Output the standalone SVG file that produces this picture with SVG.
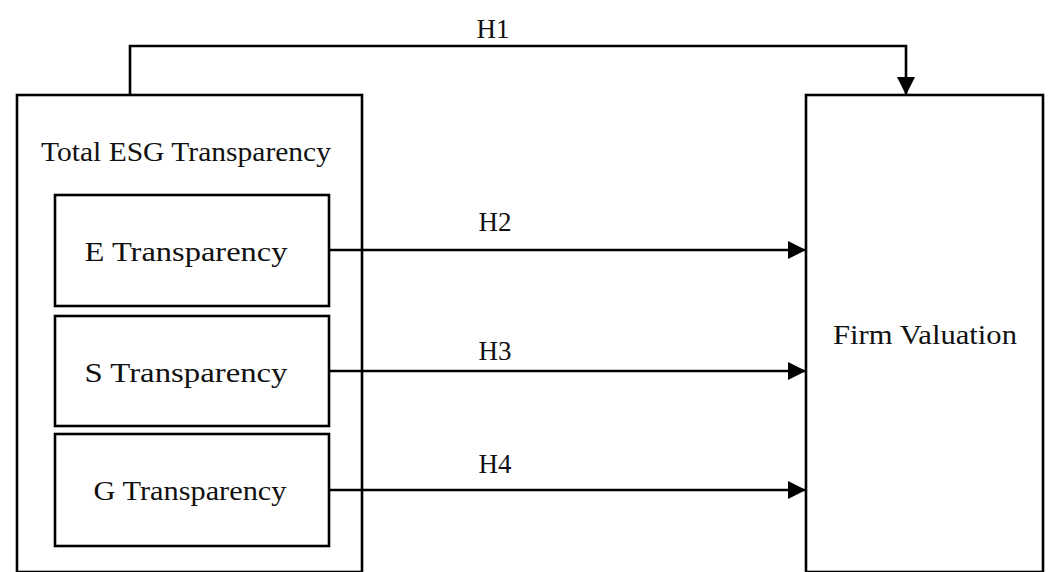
<svg xmlns="http://www.w3.org/2000/svg" width="1049" height="572" viewBox="0 0 1049 572">
<style>
.box{fill:none;stroke:#000;stroke-width:2.6}
.conn{fill:none;stroke:#000;stroke-width:2.6}
.t{font-family:"Liberation Serif","Times New Roman",serif;font-size:27px;fill:#111;text-anchor:middle}
</style>
<defs>
<marker id="arr" markerUnits="userSpaceOnUse" markerWidth="18" markerHeight="18" viewBox="0 0 16 16" refX="16" refY="8" orient="auto">
<path d="M0,0 L16,8 L0,16 Z" fill="#000"/>
</marker>
</defs>
<rect width="1049" height="572" fill="#fff"/>
<g id="total-esg">
<rect class="box" x="17" y="95" width="345" height="477"/>
<text class="t" x="186" y="161" textLength="290" lengthAdjust="spacingAndGlyphs">Total ESG Transparency</text>
</g>
<g id="e-transparency">
<rect class="box" x="55" y="195" width="274" height="111"/>
<text class="t" x="186" y="261" textLength="203" lengthAdjust="spacingAndGlyphs">E Transparency</text>
</g>
<g id="s-transparency">
<rect class="box" x="55" y="316" width="274" height="110"/>
<text class="t" x="186" y="382" textLength="203" lengthAdjust="spacingAndGlyphs">S Transparency</text>
</g>
<g id="g-transparency">
<rect class="box" x="55" y="434" width="274" height="112"/>
<text class="t" x="190" y="500" textLength="193" lengthAdjust="spacingAndGlyphs">G Transparency</text>
</g>
<g id="firm-valuation">
<rect class="box" x="806" y="95" width="237" height="477"/>
<text class="t" x="925" y="344" textLength="184" lengthAdjust="spacingAndGlyphs">Firm Valuation</text>
</g>
<g id="connectors">
<path class="conn" d="M130,95 V46 H906 V95" marker-end="url(#arr)"/>
<path class="conn" d="M329,250 H806" marker-end="url(#arr)"/>
<path class="conn" d="M329,371 H806" marker-end="url(#arr)"/>
<path class="conn" d="M329,490 H806" marker-end="url(#arr)"/>
<text class="t" x="493" y="38">H1</text>
<text class="t" x="495" y="231">H2</text>
<text class="t" x="495" y="360">H3</text>
<text class="t" x="495" y="473">H4</text>
</g>
</svg>
